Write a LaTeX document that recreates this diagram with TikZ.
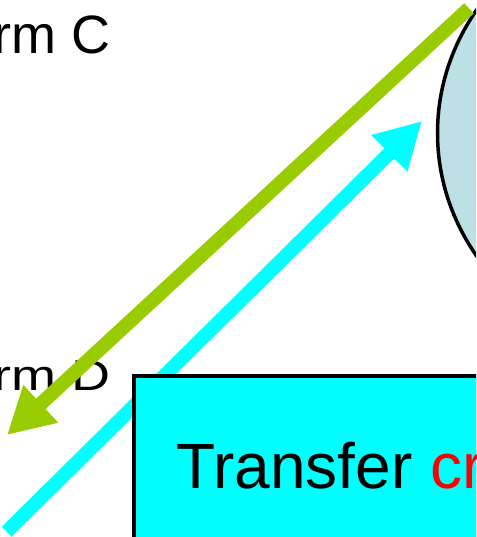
\documentclass[tikz,border=0pt]{standalone}
\usepackage{fontspec}
\setmainfont{Liberation Sans}
\usetikzlibrary{arrows.meta,shapes.geometric}
\definecolor{ovalfill}{RGB}{188,224,228}
\definecolor{arrowgreen}{RGB}{153,204,0}
\definecolor{boxcyan}{RGB}{0,255,255}
\begin{document}
\begin{tikzpicture}[x=1pt,y=1pt,
  flow/.style={line width=14pt, -{Triangle[length=46pt,width=48pt]}},
  lbl/.style={anchor=base west, inner sep=0pt, outer sep=0pt, font=\fontsize{54}{60}\selectfont}]
\useasboundingbox (0,0) rectangle (476,-537);
\begin{scope}
\clip (0,0) rectangle (476,-537);
\node[ellipse, draw, line width=3.5pt, fill=ovalfill, minimum width=500pt, minimum height=458pt, inner sep=0pt, outer sep=0pt] (oval) at (687.5,-133) {};
\node[lbl] (formC) at (-6.5,-53.5) {rm C};
\node[lbl] (formD) at (-6.5,-390.5) {\scalebox{1}[0.8]{rm D}};
\coordinate (gS) at (469,-8.3);
\coordinate (gE) at (7,-435);
\coordinate (cS) at (6.7,-531.7);
\coordinate (cE) at (422,-121);
\draw[flow, arrowgreen] (gS) -- (gE);
\draw[flow, boxcyan] (cS) -- (cE);
\coordinate (boxNW) at (134,-376);
\coordinate (boxNE) at (600,-376);
\coordinate (boxSW) at (134,-600);
\coordinate (boxSE) at (600,-600);
\fill[boxcyan] (boxNW) rectangle (boxSE);
\draw[line width=3.5pt] (boxNE) -- (boxNW) -- (boxSW);
\node[anchor=base west, inner sep=0pt, outer sep=0pt, font=\fontsize{64}{70}\selectfont] (transfer) at (176.5,-488) {Transfer \textcolor{red}{cr}};
\end{scope}
\end{tikzpicture}
\end{document}
